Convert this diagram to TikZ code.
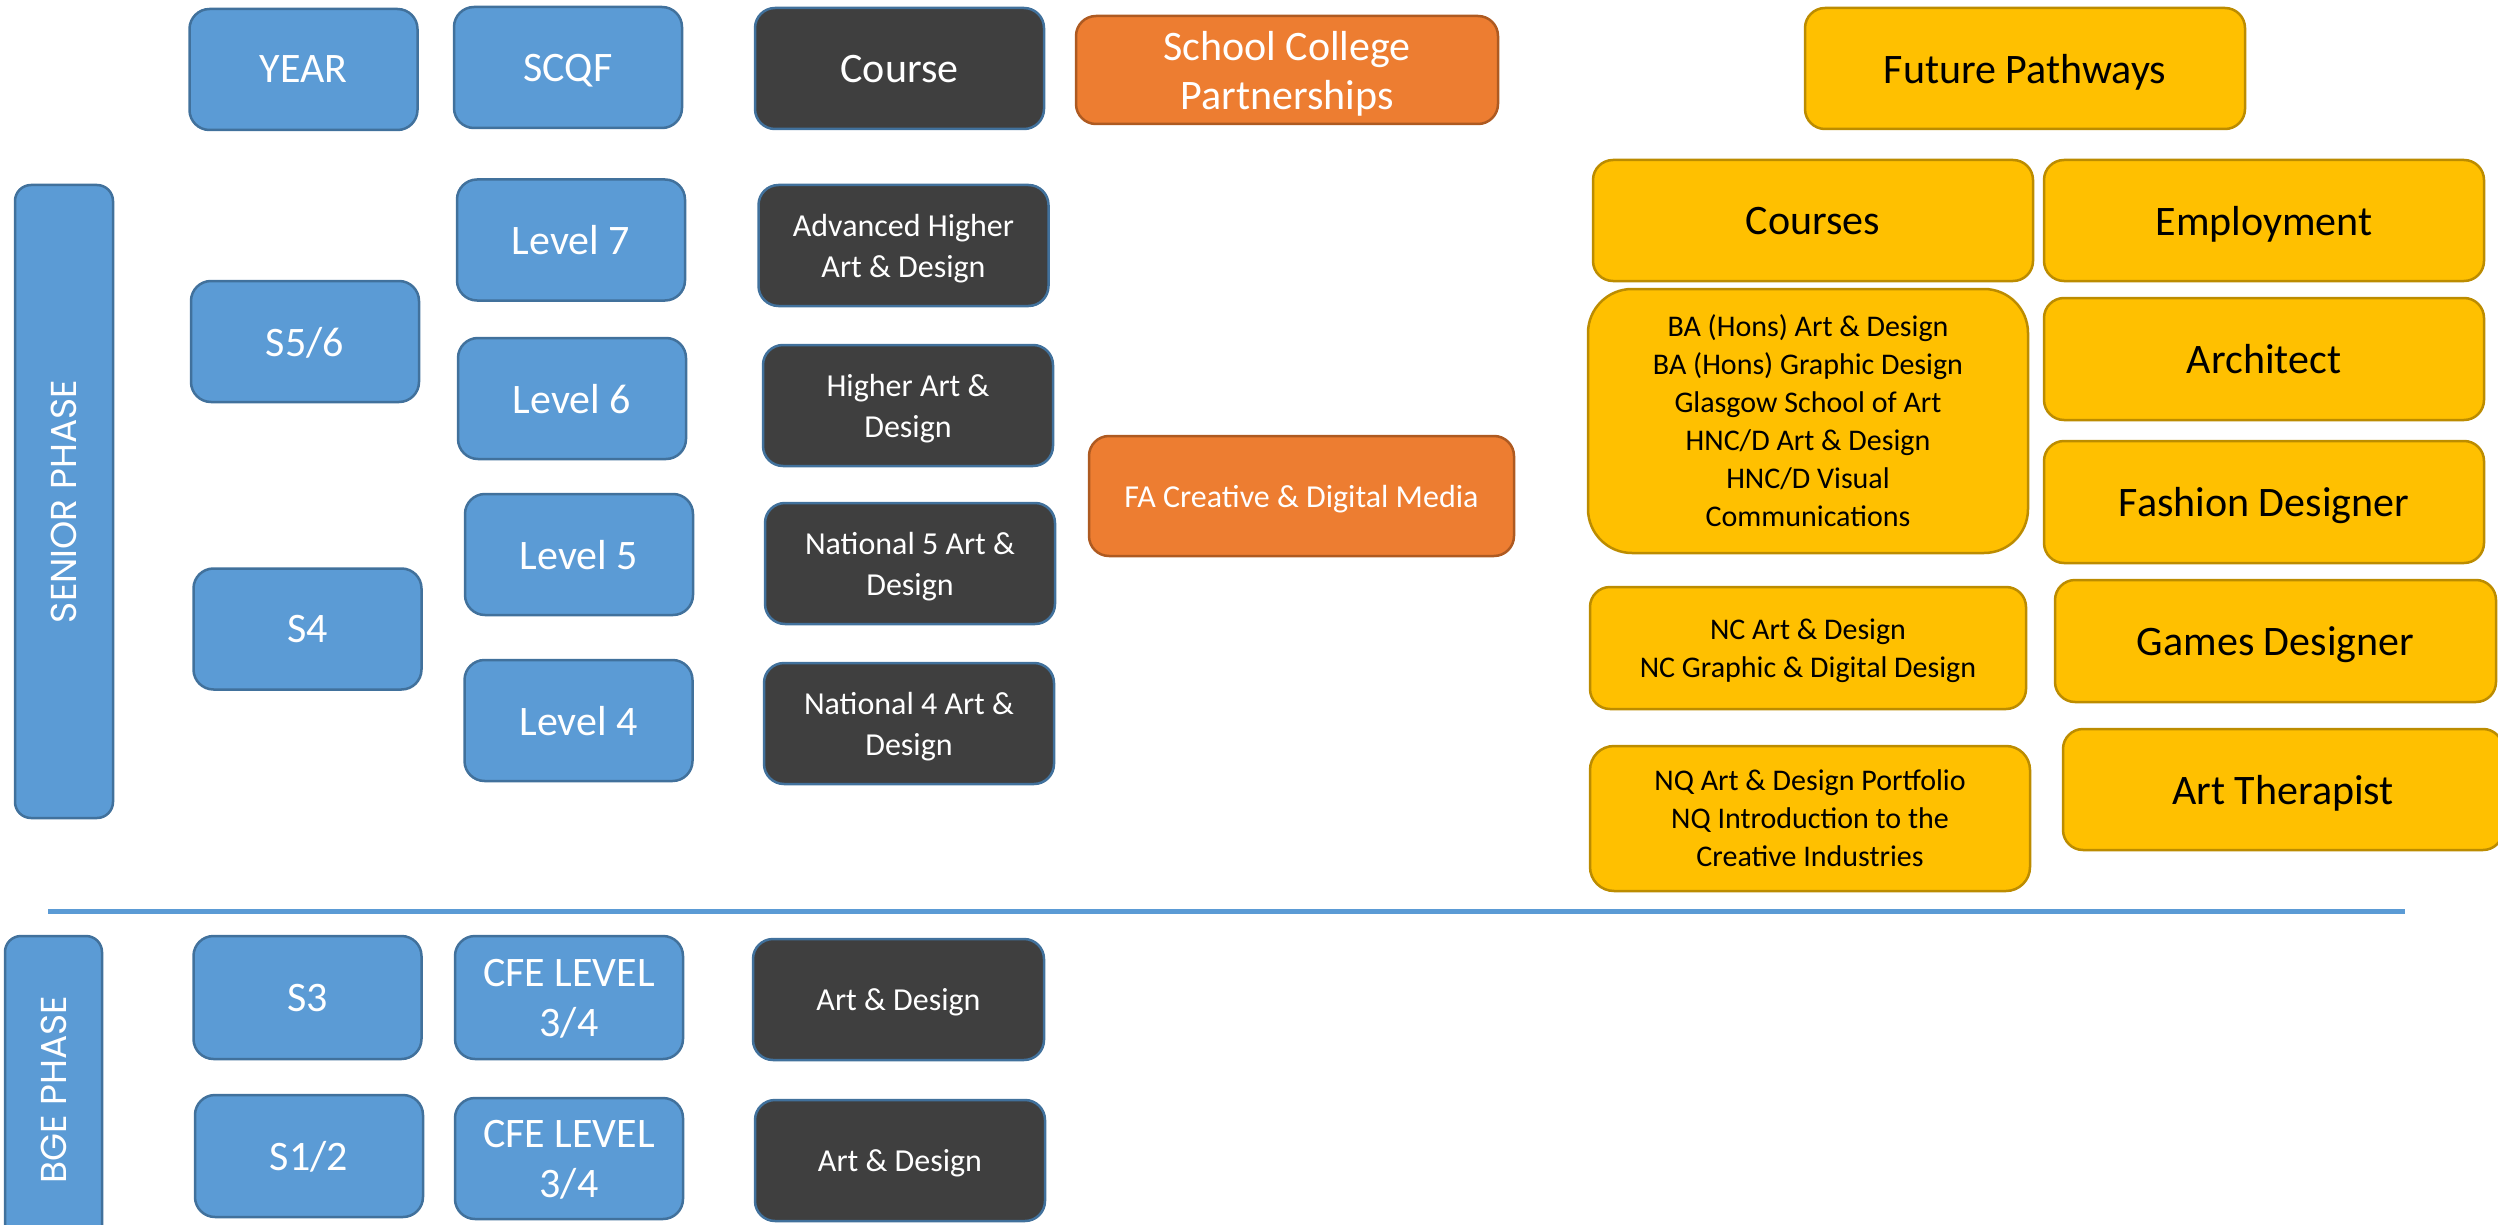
\documentclass[tikz,border=0pt]{standalone}
\usepackage{fontspec}
\setmainfont{Carlito}
\newfontfamily\phasefont{Poppins}
\usepackage{tikz}

\definecolor{boxblue}{HTML}{5B9BD5}
\definecolor{lineblue}{HTML}{41719C}
\definecolor{boxgrey}{HTML}{3F3F3F}
\definecolor{boxorange}{HTML}{ED7D31}
\definecolor{lineorange}{HTML}{AE5A21}
\definecolor{boxgold}{HTML}{FFC000}
\definecolor{linegold}{HTML}{BC8C00}

\tikzset{
 card/.style={draw, line width=2.5pt, rounded corners=20pt, align=center,
 inner sep=0pt, text depth=0pt, minimum width=228pt, minimum height=121pt},
 bluebox/.style={card, fill=boxblue, draw=lineblue, text=white,
 font=\fontsize{42}{50}\selectfont},
 greybox/.style={card, fill=boxgrey, draw=lineblue, text=white,
 minimum width=290pt, font=\fontsize{32}{41}\selectfont},
 orangebox/.style={card, fill=boxorange, draw=lineorange, text=white,
 minimum width=424pt},
 goldbox/.style={card, fill=boxgold, draw=linegold, text=black,
 minimum width=440pt, font=\fontsize{42}{51}\selectfont},
 smallgold/.style={goldbox, font=\fontsize{30}{38}\selectfont},
 phasebox/.style={card, fill=boxblue, draw=lineblue, text=white, rotate=90,
 rounded corners=16pt, minimum height=98pt, font=\phasefont\fontsize{36}{42}\selectfont},
}

\begin{document}
\begin{tikzpicture}[x=1pt,y=-1pt]
 \useasboundingbox (0,0) rectangle (2498,1225);
 \clip (0,0) rectangle (2498,1225);

 % headings
 \node[bluebox] (year) at (303.5,69.5) {YEAR};
 \node[bluebox] (scqf) at (568,67.5) {SCQF};
 \node[greybox, minimum width=289pt, font=\fontsize{42}{51}\selectfont] (course) at (899.5,68.5) {Course};
 \node[orangebox, minimum width=422pt, minimum height=108pt, font=\fontsize{42}{49}\selectfont] (scp) at (1287,70) {School College\\Partnerships};
 \node[goldbox] (future) at (2025,68.5) {Future Pathways};

 % senior phase
 \node[phasebox, minimum width=633pt] (senior) at (64,501.5) {SENIOR PHASE};
 \node[bluebox] (s56) at (305,341.5) {S5/6};
 \node[bluebox] (s4) at (307.5,629) {S4};
 \node[bluebox] (lev7) at (571,240) {Level 7};
 \node[bluebox] (lev6) at (572,398.5) {Level 6};
 \node[bluebox] (lev5) at (579,554.5) {Level 5};
 \node[bluebox] (lev4) at (578.5,720.5) {Level 4};
 \node[greybox] (advhigher) at (903.5,245.5) {Advanced Higher\\Art \& Design};
 \node[greybox] (higher) at (908,405.5) {Higher Art \&\\Design};
 \node[greybox] (nat5) at (910,563.5) {National 5 Art \&\\Design};
 \node[greybox] (nat4) at (909,723.5) {National 4 Art \&\\Design};
 \node[orangebox, minimum width=425pt, minimum height=120pt, font=\fontsize{32}{39}\selectfont] (fa) at (1301.5,496) {FA Creative \& Digital Media};

 % future pathways
 \node[goldbox] (courses) at (1813,220.5) {Courses};
 \node[goldbox] (employ) at (2264,220.5) {Employment};
 \node[smallgold, minimum height=264pt, rounded corners=44pt] (ba) at (1808,421) {BA (Hons) Art \& Design\\BA (Hons) Graphic Design\\Glasgow School of Art\\HNC/D Art \& Design\\HNC/D Visual\\Communications};
 \node[goldbox, minimum height=122pt] (architect) at (2264,359) {Architect};
 \node[goldbox, minimum height=122pt] (fashion) at (2264,502) {Fashion Designer};
 \node[smallgold, minimum width=436pt, minimum height=122pt] (nc) at (1808,648) {NC Art \& Design\\NC Graphic \& Digital Design};
 \node[goldbox, minimum width=441pt, minimum height=122pt] (games) at (2275.5,641) {Games Designer};
 \node[smallgold, minimum height=145pt, rounded corners=24pt] (nq) at (1810,818.5) {NQ Art \& Design Portfolio\\NQ Introduction to the\\Creative Industries};
 \node[goldbox] (therapist) at (2283,789.5) {Art Therapist};

 % divider
 \coordinate (divleft) at (48,911);
 \coordinate (divright) at (2405,911);
 \draw[boxblue, line width=5pt] (divleft) -- (divright);

 % bge phase
 \node[phasebox, minimum width=308pt, minimum height=97pt] (bge) at (53.5,1090) {BGE PHASE};
 \node[bluebox, minimum height=123pt] (s3) at (307.5,997.5) {S3};
 \node[bluebox, minimum height=122pt] (s12) at (309,1156) {S1/2};
 \node[bluebox, minimum height=123pt] (cfe3) at (569,997.5) {CFE LEVEL\\3/4};
 \node[bluebox] (cfe12) at (569,1158.5) {CFE LEVEL\\3/4};
 \node[greybox, minimum width=291pt] (artdes3) at (898.5,999.5) {Art \& Design};
 \node[greybox] (artdes12) at (900,1160.5) {Art \& Design};
\end{tikzpicture}
\end{document}
